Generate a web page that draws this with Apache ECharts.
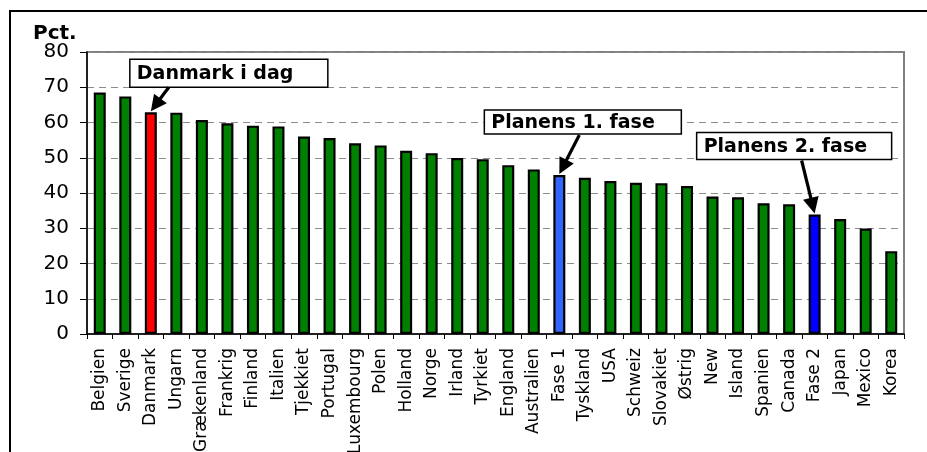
<!DOCTYPE html>
<html>
<head>
<meta charset="utf-8">
<script src="https://cdn.jsdelivr.net/npm/echarts@6/dist/echarts.min.js"></script>
<style>
  html, body { margin: 0; padding: 0; background: #fff; }
  #main { width: 927px; height: 452px; }
</style>
</head>
<body>
<div id="main"></div>
<script>
var categories = ['Belgien', 'Sverige', 'Danmark', 'Ungarn', 'Grækenland', 'Frankrig', 'Finland', 'Italien',
    'Tjekkiet', 'Portugal', 'Luxembourg', 'Polen', 'Holland', 'Norge', 'Irland', 'Tyrkiet', 'England',
    'Australien', 'Fase 1', 'Tyskland', 'USA', 'Schweiz', 'Slovakiet', 'Østrig', 'New', 'Island',
    'Spanien', 'Canada', 'Fase 2', 'Japan', 'Mexico', 'Korea'];
var values = [68.5, 67.4, 62.9, 62.8, 60.7, 59.8, 59.1, 58.9,
    56.0, 55.6, 54.1, 53.5, 52.0, 51.3, 49.9, 49.6, 47.9,
    46.7, 45.1, 44.3, 43.4, 42.9, 42.8, 42.0, 39.0, 38.8,
    37.1, 36.8, 33.9, 32.6, 29.9, 23.5];
var yTicks = [0, 10, 20, 30, 40, 50, 60, 70, 80];

var highlight = { 'Danmark': '#ff0000', 'Fase 1': '#3366ff', 'Fase 2': '#0000ff' };

// callouts: box offset from bar top [dx, dy, w, h], arrow tail offset from bar top
var callouts = [
    { cat: 'Danmark', text: 'Danmark i dag', box: [-21, -52, 198, 28], tail: [18, -24] },
    { cat: 'Fase 1', text: 'Planens 1. fase', box: [-75, -64, 197, 24], tail: [20, -39] },
    { cat: 'Fase 2', text: 'Planens 2. fase', box: [-118, -81, 195, 27], tail: [-13, -53] }
];

var myChart = echarts.init(document.getElementById('main'));

var font = '"DejaVu Sans", Verdana, sans-serif';

option = {
    backgroundColor: '#fff',
    animation: false,
    grid: {
        left: 87,
        right: 23,
        top: 52,
        bottom: 118,
        outerBoundsMode: 'none',
        containLabel: false,
        show: true,
        borderColor: '#808080',
        borderWidth: 2
    },
    xAxis: {
        type: 'category',
        data: categories,
        axisLine: { lineStyle: { color: '#000', width: 1.5 } },
        axisTick: { show: true, length: 5, lineStyle: { color: '#000' } },
        axisLabel: {
            rotate: 90,
            interval: 0,
            margin: 14,
            color: '#000',
            fontFamily: font,
            fontSize: 17
        }
    },
    yAxis: {
        type: 'value',
        min: yTicks[0],
        max: yTicks[yTicks.length - 1],
        interval: 10,
        axisLine: { show: true, lineStyle: { color: '#000', width: 1.5 } },
        axisTick: { show: true, length: 7, lineStyle: { color: '#000' } },
        axisLabel: {
            margin: 18,
            color: '#000',
            fontFamily: font,
            fontSize: 20
        },
        splitLine: {
            show: true,
            lineStyle: { color: '#8c8c8c', type: [7, 5], width: 1.2 }
        }
    },
    series: [{
        type: 'bar',
        barWidth: 12,
        data: values.map(function (v, i) {
            return {
                value: v,
                itemStyle: { color: highlight[categories[i]] || '#008000' }
            };
        }),
        itemStyle: { borderColor: '#000', borderWidth: 2.2 }
    }]
};
myChart.setOption(option);

var graphics = [
    {
        type: 'rect',
        shape: { x: 10, y: 11, width: 1000, height: 1000 },
        style: { fill: 'none', stroke: '#000', lineWidth: 2 },
        silent: true
    },
    {
        type: 'text',
        left: 33,
        top: 24,
        style: { text: 'Pct.', font: 'bold 20px ' + font, fill: '#000' }
    }
];

callouts.forEach(function (c) {
    var idx = categories.indexOf(c.cat);
    var p = myChart.convertToPixel({ seriesIndex: 0 }, [idx, values[idx]]);
    var bx = p[0], by = p[1] - 1;
    var tx = bx + c.tail[0], ty = by + c.tail[1];
    var dx = bx - tx, dy = by - ty;
    var len = Math.sqrt(dx * dx + dy * dy);
    var ux = dx / len, uy = dy / len;
    var headLen = 16, headHalf = 8;
    var baseX = bx - ux * headLen, baseY = by - uy * headLen;
    graphics.push({
        type: 'rect',
        shape: { x: bx + c.box[0], y: by + c.box[1], width: c.box[2], height: c.box[3] },
        style: { fill: '#fff', stroke: '#000', lineWidth: 1.5 },
        z: 10
    });
    graphics.push({
        type: 'text',
        x: bx + c.box[0] + 7,
        y: by + c.box[1] + c.box[3] / 2 + 1,
        style: { text: c.text, font: 'bold 19px ' + font, fill: '#000', verticalAlign: 'middle' },
        z: 11
    });
    graphics.push({
        type: 'line',
        shape: { x1: tx, y1: ty, x2: baseX + ux * 2, y2: baseY + uy * 2 },
        style: { stroke: '#000', lineWidth: 3.2 },
        z: 10
    });
    graphics.push({
        type: 'polygon',
        shape: {
            points: [
                [bx, by],
                [baseX - uy * headHalf, baseY + ux * headHalf],
                [baseX + uy * headHalf, baseY - ux * headHalf]
            ]
        },
        style: { fill: '#000' },
        z: 10
    });
});

myChart.setOption({ graphic: graphics });
</script>
</body>
</html>
